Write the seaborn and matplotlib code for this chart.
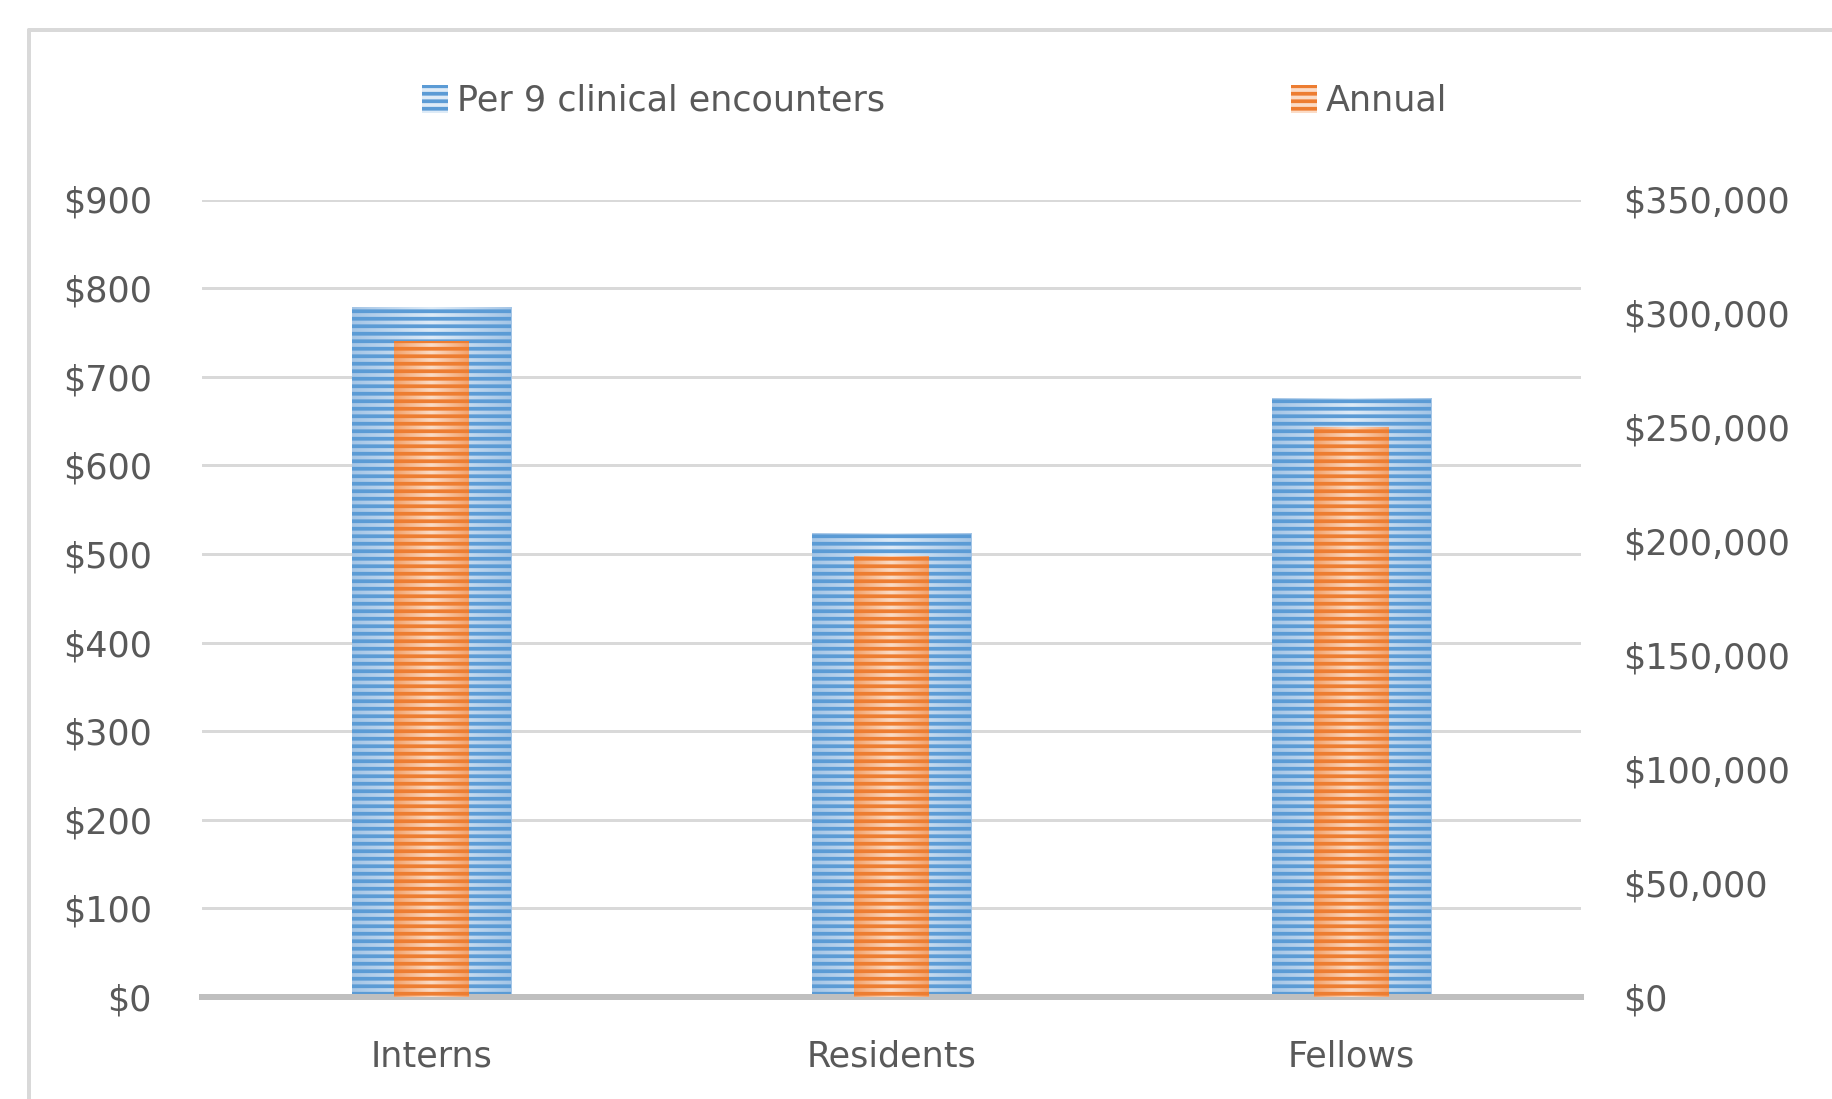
import matplotlib
matplotlib.use("Agg")
import numpy as np
import pandas as pd
import seaborn as sns
import matplotlib.pyplot as plt
from matplotlib.patches import Patch
from matplotlib.lines import Line2D
from matplotlib.colors import LinearSegmentedColormap

# data
categories = ["Interns", "Residents", "Fellows"]
per_encounter = [779, 524, 676]
annual = [288000, 193500, 250000]
left_ticks = list(range(0, 901, 100))
right_ticks = list(range(0, 350001, 50000))
legend_labels = ["Per 9 clinical encounters", "Annual"]

W, H, DPI = 1832, 1099, 90
FS = 28
TEXT = "#595959"
BLUE_DARK, BLUE_EDGE, BLUE_MID = "#5b9bd5", "#a4c5e6", "#deebf7"
ORANGE_DARK, ORANGE_EDGE, ORANGE_MID = "#ed7d31", "#f4a26b", "#fbdcc7"

sns.set_style("white")
plt.rcParams["font.family"] = ["DejaVu Sans"]
plt.rcParams["hatch.linewidth"] = 3.0

fig = plt.figure(figsize=(W / DPI, H / DPI), dpi=DPI)
ax = fig.add_axes([202 / W, 1 - 997 / H, (1581 - 202) / W, (997 - 199.5) / H])
ax2 = ax.twinx()

df = pd.DataFrame({"group": categories, "per9": per_encounter, "annual": annual})
sns.barplot(data=df, x="group", y="per9", ax=ax, width=0.346,
            color=BLUE_DARK, saturation=1, errorbar=None)
sns.barplot(data=df, x="group", y="annual", ax=ax2, width=0.163,
            color=ORANGE_DARK, saturation=1, errorbar=None)


def stripe_bars(axis, dark, edge, mid):
    """Excel-like horizontal stripes with a soft horizontal gradient."""
    cmap = LinearSegmentedColormap.from_list("g", [edge, mid, edge])
    grad = np.linspace(0, 1, 128)[None, :]
    for bar in list(axis.patches):
        x0, y0 = bar.get_x(), bar.get_y()
        x1, y1 = x0 + bar.get_width(), y0 + bar.get_height()
        im = axis.imshow(grad, extent=[x0, x1, y0, y1], aspect="auto",
                         cmap=cmap, zorder=0.9, interpolation="bilinear")
        im.set_clip_path(bar)
        bar.set_facecolor("none")
        bar.set_edgecolor(dark)
        bar.set_linewidth(0)
        bar.set_hatch("--")
        bar.set_zorder(1)


stripe_bars(ax, BLUE_DARK, BLUE_EDGE, BLUE_MID)
stripe_bars(ax2, ORANGE_DARK, ORANGE_EDGE, ORANGE_MID)

ax.set_xlim(-0.5, 2.5)
ax.set_ylim(0, 900)
ax2.set_ylim(0, 350000)

ax.set_axisbelow(True)
ax.grid(axis="y", color="#d9d9d9", lw=2.4)
ax2.grid(False)

ax.set_yticks(left_ticks)
ax.set_yticklabels([f"${v:,}" for v in left_ticks])
ax2.set_yticks(right_ticks)
ax2.set_yticklabels([f"${v:,}" for v in right_ticks])
ax.set_xlabel("")
ax.set_ylabel("")
ax2.set_ylabel("")

ax.tick_params(axis="y", length=0, pad=40, labelsize=FS, labelcolor=TEXT)
ax2.tick_params(axis="y", length=0, pad=34, labelsize=FS, labelcolor=TEXT)
ax.tick_params(axis="x", length=0, pad=34, labelsize=FS, labelcolor=TEXT)

for s in ["top", "left", "right"]:
    ax.spines[s].set_visible(False)
for s in ax2.spines.values():
    s.set_visible(False)
ax.spines["bottom"].set_color("#bfbfbf")
ax.spines["bottom"].set_linewidth(4.8)

# two single-entry legends so each swatch sits where Excel put it
handles = [
    Patch(facecolor=BLUE_MID, edgecolor=BLUE_DARK, hatch="--", lw=0),
    Patch(facecolor=ORANGE_MID, edgecolor=ORANGE_DARK, hatch="--", lw=0),
]
for h, lab, x in zip(handles, legend_labels, [422, 1291]):
    fig.legend([h], [lab], loc="center left",
               bbox_to_anchor=(x / W, 1 - 101 / H), frameon=False,
               fontsize=FS, labelcolor=TEXT, handlelength=0.75, handleheight=0.85,
               handletextpad=0.25, borderpad=0, borderaxespad=0)

# chart frame (only left and top edges fall inside the crop)
fig.add_artist(Line2D([29 / W, 29 / W], [0, 1 - 30 / H], color="#d9d9d9",
                      lw=3.2, transform=fig.transFigure))
fig.add_artist(Line2D([29 / W, 1], [1 - 30 / H, 1 - 30 / H], color="#d9d9d9",
                      lw=3.2, transform=fig.transFigure))

fig.savefig("out.png", dpi=DPI)
